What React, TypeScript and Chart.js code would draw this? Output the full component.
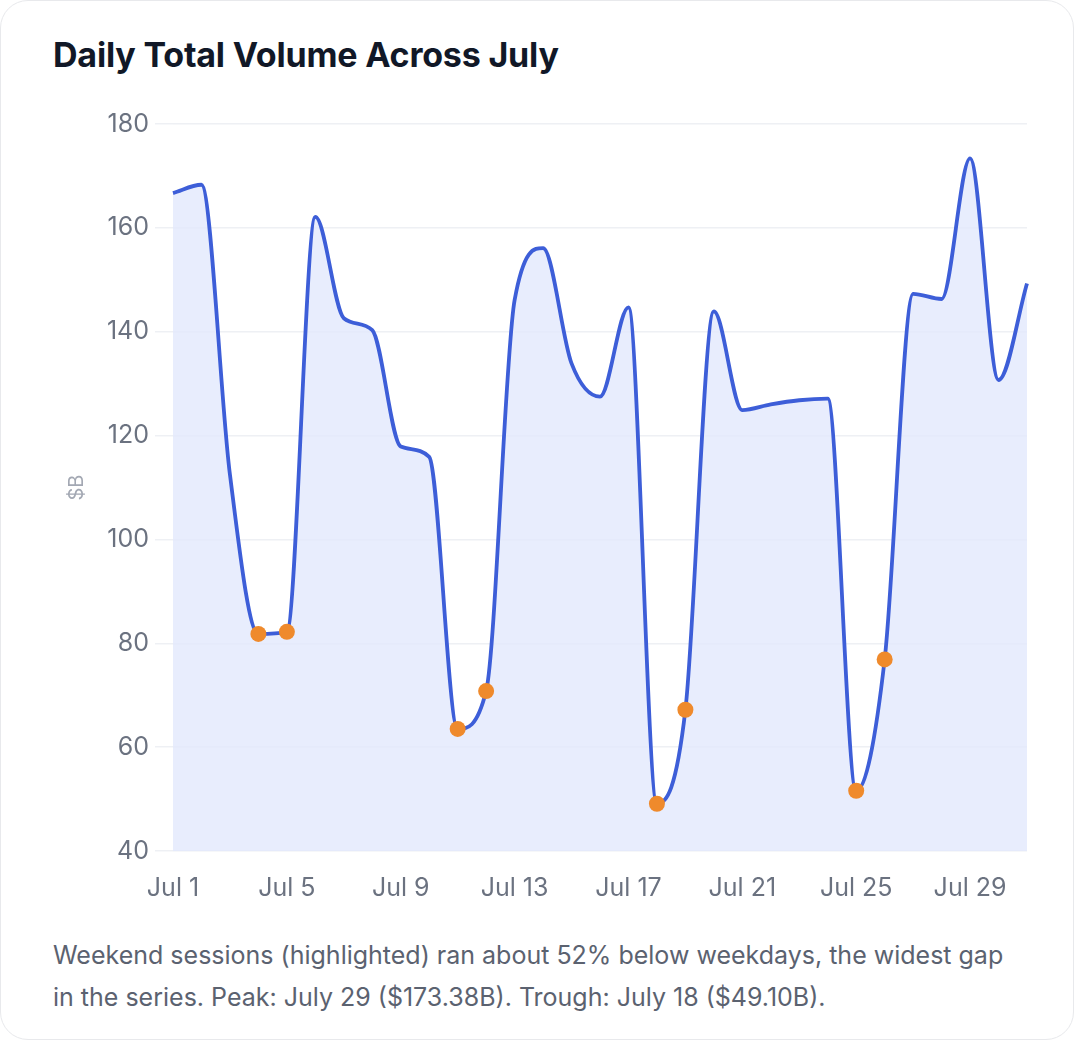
import React, { useEffect, useRef } from "react";
import { Chart, registerables } from "chart.js";

Chart.register(...registerables);

const days: string[] = Array.from({ length: 31 }, (_, i) => `Jul ${i + 1}`);
const volumes: number[] = [
  166.7, 168.3, 112.5, 81.8, 82.2, 162.1, 142.6, 140.3, 117.9, 115.9,
  63.5, 70.8, 146.1, 156.1, 133.9, 127.5, 144.7, 49.1, 67.2, 143.9,
  124.9, 126.0, 126.8, 127.1, 51.6, 76.9, 147.3, 146.3, 173.38, 130.7,
  149.3,
];
const weekendDays: number[] = [4, 5, 11, 12, 18, 19, 25, 26];
const yTicks = { min: 40, max: 180, step: 20 };

const FONT = "Inter, 'Noto Sans', sans-serif";

export default function App() {
  const canvasRef = useRef<HTMLCanvasElement | null>(null);

  useEffect(() => {
    document.body.style.margin = "0";
    const ctx = canvasRef.current;
    if (!ctx) return;
    const isWeekend = (i: number) => weekendDays.includes(i + 1);
    const chart = new Chart(ctx, {
      type: "line",
      data: {
        labels: days,
        datasets: [
          {
            data: volumes,
            borderColor: "#3d5ed8",
            borderWidth: 3.8,
            backgroundColor: "rgba(226, 232, 252, 0.8)",
            fill: "start",
            cubicInterpolationMode: "monotone",
            pointRadius: volumes.map((_, i) => (isWeekend(i) ? 8 : 0)),
            pointHoverRadius: 0,
            pointBackgroundColor: "#ef8a2c",
            pointBorderColor: "#ef8a2c",
            pointBorderWidth: 0,
          },
        ],
      },
      options: {
        animation: false,
        responsive: true,
        maintainAspectRatio: false,
        layout: { padding: 0 },
        plugins: {
          legend: { display: false },
          tooltip: { enabled: false },
        },
        scales: {
          x: {
            grid: { display: false, drawTicks: false },
            border: { display: false },
            ticks: {
              autoSkip: false,
              maxRotation: 0,
              padding: 22,
              color: "#6b7280",
              font: { family: FONT, size: 25 },
              callback: (_v: any, i: number) => (i % 4 === 0 ? days[i] : ""),
            },
            afterFit: (scale: any) => {
              scale.height = 60;
            },
          },
          y: {
            min: yTicks.min,
            max: yTicks.max,
            grid: {
              color: "#eef0f4",
              lineWidth: 1.5,
              drawTicks: true,
              tickLength: 18,
            },
            border: { display: false },
            ticks: {
              stepSize: yTicks.step,
              padding: 6,
              color: "#6b7280",
              font: { family: FONT, size: 25 },
            },
            title: {
              display: true,
              text: "$B",
              color: "#a3a8b3",
              font: { family: FONT, size: 20 },
              padding: { top: 12, bottom: 0 },
            },
            afterFit: (scale: any) => {
              scale.width = 120;
            },
          },
        },
      },
    });
    return () => chart.destroy();
  }, []);

  return (
    <div
      style={{
        position: "fixed",
        left: 0,
        top: 0,
        width: 1080,
        height: 1047,
        background: "#ffffff",
        fontFamily: FONT,
      }}
    >
      <div
        style={{
          position: "absolute",
          left: 0,
          top: 0,
          width: 1074,
          height: 1040,
          border: "1.5px solid #e8e9ec",
          borderRadius: 28,
          boxSizing: "border-box",
        }}
      />
      <div
        style={{
          position: "absolute",
          left: 53,
          top: 34,
          fontSize: 34,
          fontWeight: 700,
          color: "#111827",
          letterSpacing: -0.2,
          whiteSpace: "nowrap",
        }}
      >
        Daily Total Volume Across July
      </div>
      <div
        style={{
          position: "absolute",
          left: 53,
          top: 103,
          width: 996,
          height: 808,
        }}
      >
        <canvas ref={canvasRef} />
      </div>
      <div
        style={{
          position: "absolute",
          left: 53,
          top: 934,
          width: 975,
          fontSize: 25,
          lineHeight: "42px",
          color: "#5b6270",
        }}
      >
        Weekend sessions (highlighted) ran about 52% below weekdays, the widest gap in the series. Peak: July 29 ($173.38B). Trough: July 18 ($49.10B).
      </div>
    </div>
  );
}
